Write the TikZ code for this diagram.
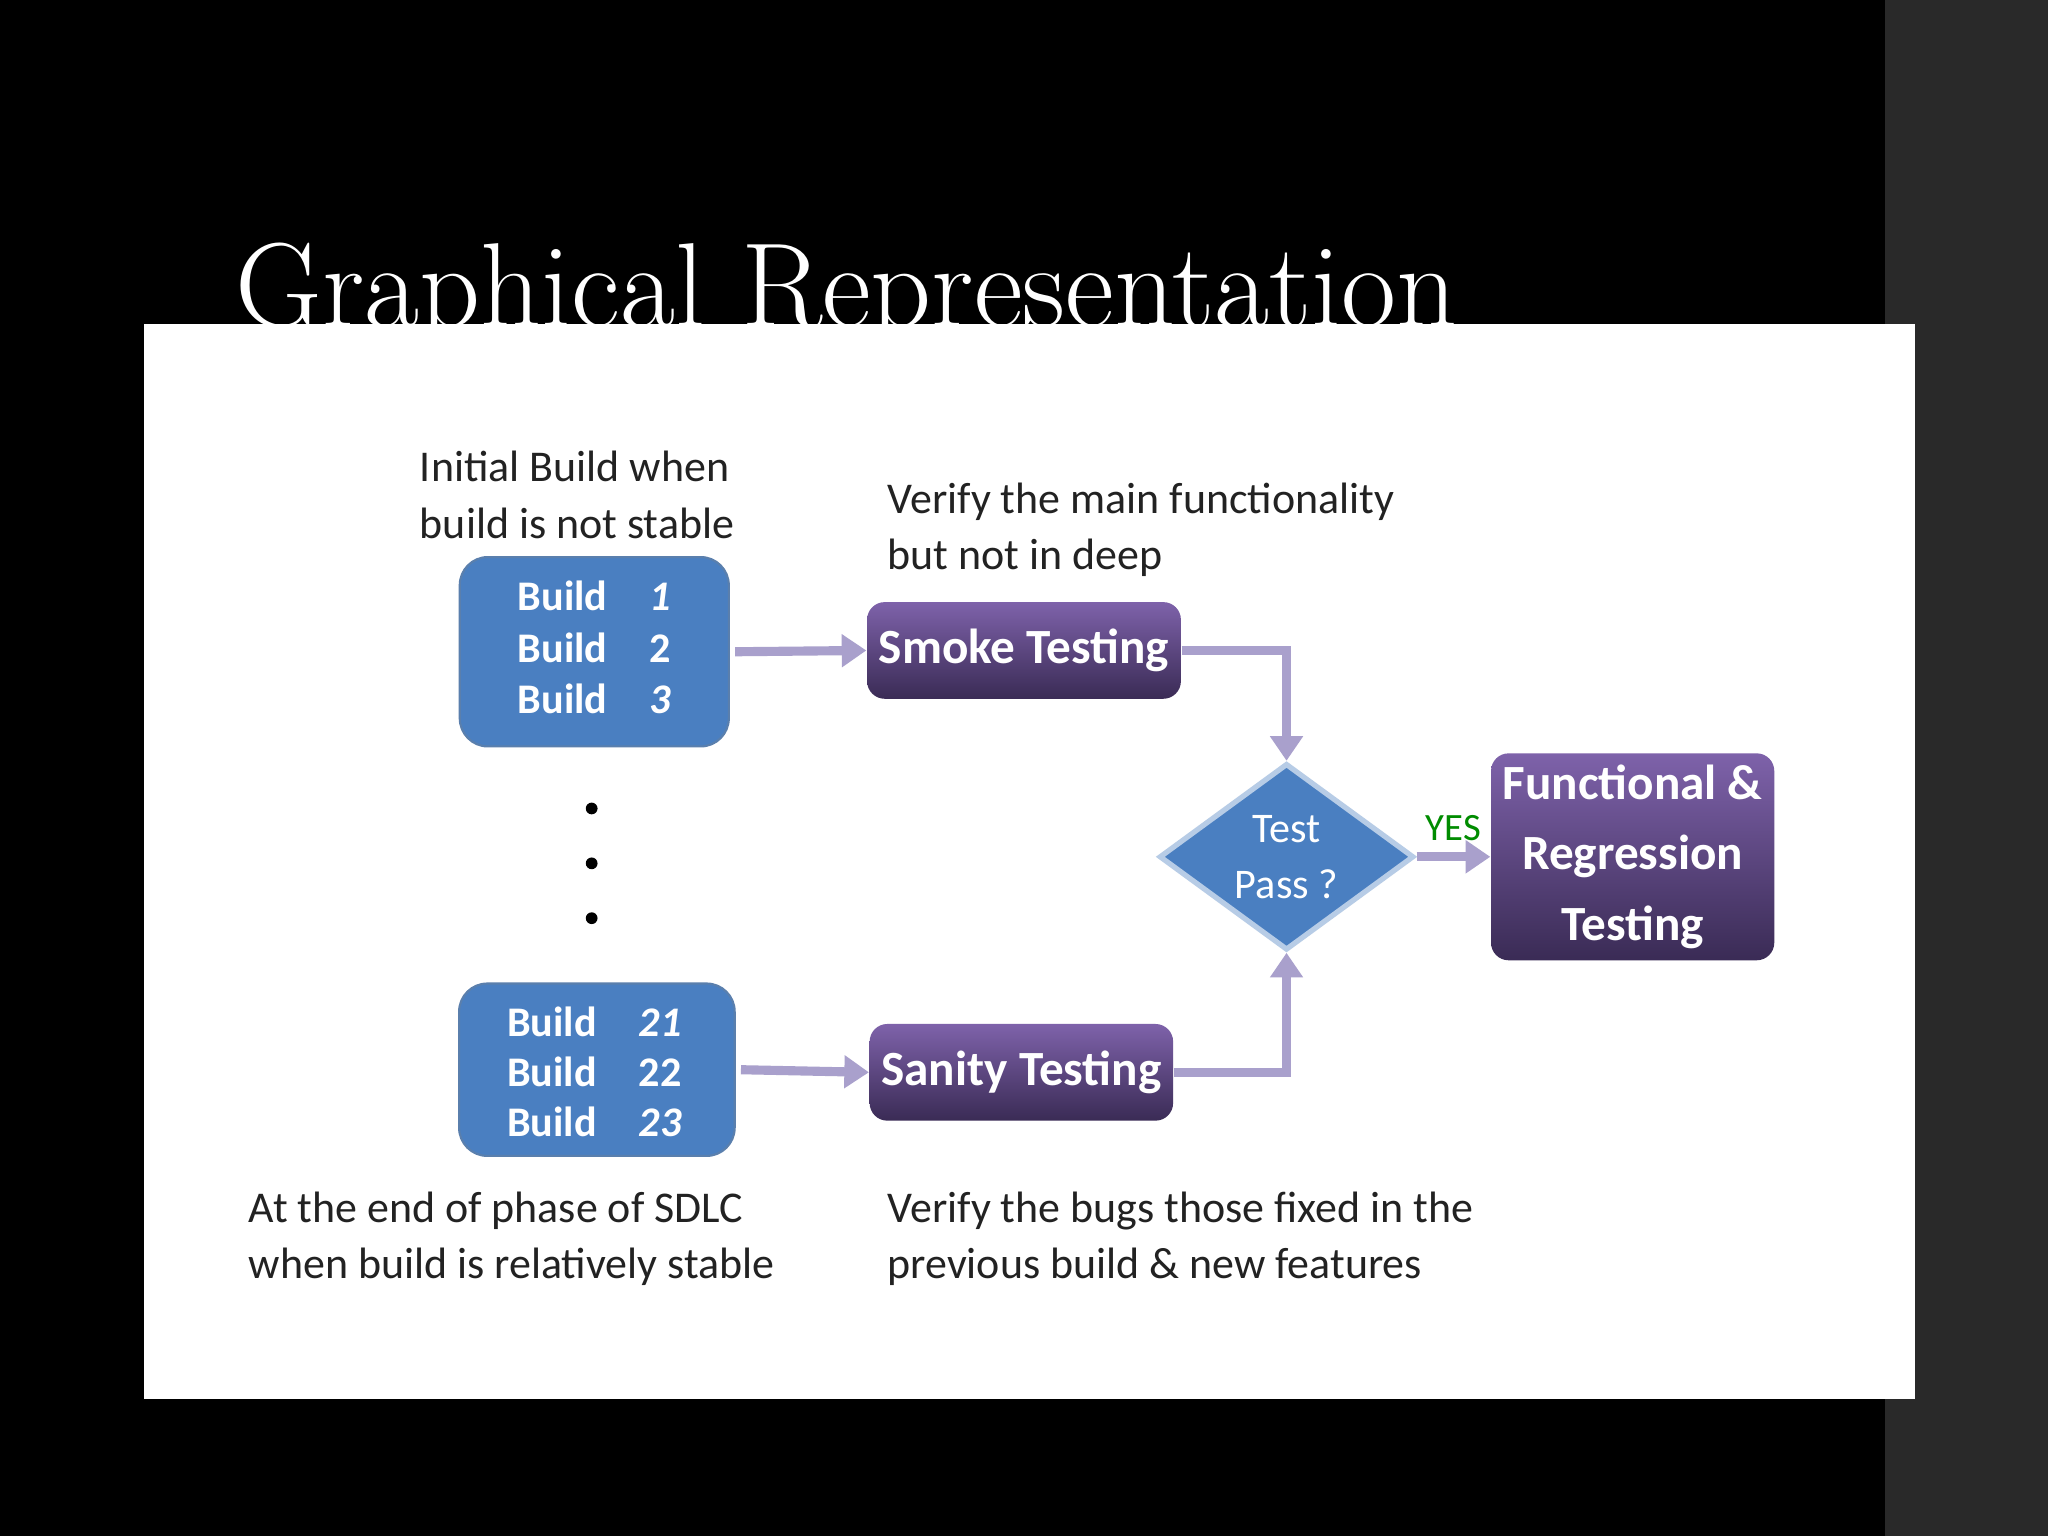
\documentclass[tikz,border=0pt]{standalone}
\usepackage{fontspec}
\setsansfont{Carlito}
\usetikzlibrary{shapes.geometric,arrows.meta}
\definecolor{bblue}{HTML}{4A7FC1}
\definecolor{ptop}{HTML}{7E62AA}
\definecolor{pbot}{HTML}{3A2B55}
\definecolor{arr}{HTML}{A9A0CC}
\definecolor{txt}{HTML}{222222}
\begin{document}
\begin{tikzpicture}[x=0.01306cm,y=-0.01306cm,
  buildbox/.style={fill=bblue,rounded corners=8pt,draw=bblue!70!gray,line width=0.6pt},
  purplebox/.style={top color=ptop,bottom color=pbot,rounded corners=5pt,text=white,font=\sffamily\bfseries\fontsize{14}{17}\selectfont,align=center},
  lbl/.style={font=\sffamily\fontsize{12.5}{16}\selectfont,text=txt,align=left,anchor=north west},
  btxt/.style={text=white,font=\sffamily\bfseries\fontsize{12}{14}\selectfont},
  conn/.style={draw=arr,line width=2.6pt,-{Triangle[length=7pt,width=9pt]}}]
\useasboundingbox (0,0) rectangle (1568,1176);
\fill[black] (0,0) rectangle (1568,1176);
\fill[black!84] (1443,0) rectangle (1568,1176);
\node[anchor=base west,text=white,font=\fontsize{34}{40}\selectfont,inner sep=0] (title) at (180,250) {Graphical Representation};
\fill[white] (110,248) rectangle (1466,1071);
% build boxes
\node[buildbox,minimum width=206*0.01306cm,minimum height=145*0.01306cm] (b1) at (455,499) {};
\node[btxt] (b1a) at (455,456) {Build\quad\itshape 1};
\node[btxt] (b1b) at (455,496) {Build\quad 2};
\node[btxt] (b1c) at (455,535) {Build\quad\itshape 3};
\node[buildbox,minimum width=211*0.01306cm,minimum height=132*0.01306cm] (b2) at (457,819) {};
\node[btxt] (b2a) at (455,782) {Build\quad\itshape 21};
\node[btxt] (b2b) at (455,821) {Build\quad 22};
\node[btxt] (b2c) at (455,859) {Build\quad\itshape 23};
\foreach \yy/\n in {619/d1,661/d2,703/d3}{\fill[black] (453,\yy) circle (4.5);}
% purple boxes
\node[purplebox,minimum width=211*0.01306cm,minimum height=74*0.01306cm] (smoke) at (784,498) {Smoke Testing};
\node[purplebox,minimum width=211*0.01306cm,minimum height=74*0.01306cm] (sanity) at (782,821) {Sanity Testing};
\node[purplebox,minimum width=213*0.01306cm,minimum height=134*0.01306cm,font=\sffamily\bfseries\fontsize{14}{20}\selectfont] (func) at (1250,656) {Functional \&\\Regression\\Testing};
\node[diamond,fill=bblue,draw=bblue!40,line width=1.5pt,minimum width=195*0.01306cm,minimum height=132*0.01306cm,inner sep=0,text=white,font=\sffamily\fontsize{12}{16}\selectfont,align=center] (dec) at (985,656) {Test\\Pass ?};
% connectors
\draw[conn] (b1.east) ++(4,0) -- (smoke.west);
\draw[conn] (b2.east) ++(4,0) -- (sanity.west);
\draw[conn] (smoke.east) -| (dec.north);
\draw[conn] (sanity.east) -| (dec.south);
\draw[conn] (dec.east) -- node[above,text=green!55!black,font=\sffamily\fontsize{11}{13}\selectfont] (yes) {YES} (func.west);
% labels
\node[lbl] (l1) at (312,336) {Initial Build when\\build is not stable};
\node[lbl] (l2) at (670,360) {Verify the main functionality\\but not in deep};
\node[lbl] (l3) at (181,903) {At the end of phase of SDLC\\when build is relatively stable};
\node[lbl] (l4) at (670,903) {Verify the bugs those fixed in the\\previous build \& new features};
\end{tikzpicture}
\end{document}
